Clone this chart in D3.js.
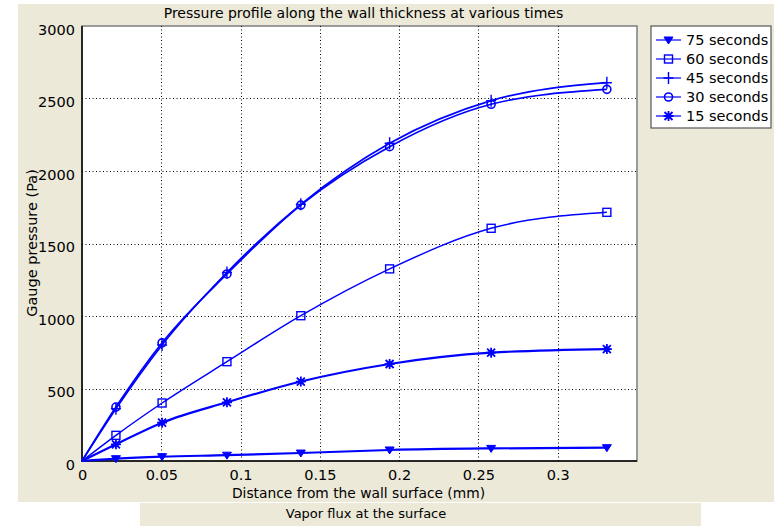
<!DOCTYPE html>
<html lang="en">
<head>
<meta charset="UTF-8">
<title>Pressure profile</title>
<script src="https://d3js.org/d3.v7.min.js"></script>
<style>
    body {margin:0; background:#fff;}
    svg {display:block; font-family:"DejaVu Sans", Verdana, sans-serif;}
</style>
</head>
<body>
<svg id="chart" width="781" height="526"></svg>
<script>
// distance from wall surface (mm)
var distance = [0, 0.0214, 0.0505, 0.0914, 0.138, 0.194, 0.258, 0.331];

// gauge pressure (Pa) per time
var p75 = [0, 16, 30, 40, 55, 76, 87, 92];
var p60 = [0, 177, 400, 685, 1002, 1325, 1605, 1715];
var p45 = [0, 360, 800, 1300, 1770, 2191, 2485, 2609];
var p30 = [0, 372, 815, 1290, 1765, 2168, 2460, 2563];
var p15 = [0, 115, 264, 405, 548, 669, 747, 772];

var seriesNames = ["75 seconds", "60 seconds", "45 seconds", "30 seconds", "15 seconds"];
var seriesValues = [p75, p60, p45, p30, p15];

var xTicks = [0, 0.05, 0.1, 0.15, 0.2, 0.25, 0.3];
var xTickLabels = ["0", "0.05", "0.1", "0.15", "0.2", "0.25", "0.3"];
var yTicks = [0, 500, 1000, 1500, 2000, 2500, 3000];
var yTickLabels = ["0", "500", "1000", "1500", "2000", "2500", "3000"];

// marker type + line width per series (same order as seriesNames)
var markers = ["tri", "square", "plus", "circle", "star"];
var lineWidths = [2.2, 1.5, 1.7, 1.7, 2.2];

var svg = d3.select("#chart");
var blue = "#0000ff";

// beige panels
svg.append("rect").attr("x", 18).attr("y", 4).attr("width", 756).attr("height", 498).attr("fill", "#ece9d8");
svg.append("rect").attr("x", 140).attr("y", 503).attr("width", 561).attr("height", 23).attr("fill", "#ece9d8");

var plotL = 82, plotR = 637, plotT = 26, plotB = 461;
var x = d3.scaleLinear().domain([0, 0.35]).range([plotL, plotR]);
var y = d3.scaleLinear().domain([0, 3000]).range([plotB, plotT]);

svg.append("rect").attr("x", plotL).attr("y", plotT).attr("width", plotR - plotL).attr("height", plotB - plotT)
    .attr("fill", "#fff").attr("stroke", "#7f7f7f").attr("stroke-width", 1.5);

// dotted grid
var grid = svg.append("g").attr("stroke", "#000").attr("stroke-width", 1).attr("stroke-dasharray", "1,2.5");
grid.selectAll(".gx").data(xTicks.slice(1)).enter().append("line")
    .attr("x1", function (d) { return Math.round(x(d)) + 0.5; })
    .attr("x2", function (d) { return Math.round(x(d)) + 0.5; })
    .attr("y1", plotT).attr("y2", plotB);
grid.selectAll(".gy").data(yTicks.slice(1, -1)).enter().append("line")
    .attr("y1", function (d) { return Math.round(y(d)) + 0.5; })
    .attr("y2", function (d) { return Math.round(y(d)) + 0.5; })
    .attr("x1", plotL).attr("x2", plotR);

// axes (labels only, lines drawn below)
var xAxis = svg.append("g").attr("transform", "translate(0," + plotB + ")")
    .call(d3.axisBottom(x).tickValues(xTicks).tickSize(0).tickPadding(9)
        .tickFormat(function (d, i) { return xTickLabels[i]; }));
var yAxis = svg.append("g").attr("transform", "translate(" + plotL + ",0)")
    .call(d3.axisLeft(y).tickValues(yTicks).tickSize(0).tickPadding(7)
        .tickFormat(function (d, i) { return yTickLabels[i]; }));
[xAxis, yAxis].forEach(function (a) {
    a.select(".domain").remove();
    a.selectAll("text").attr("font-family", "DejaVu Sans").attr("font-size", 14.5).attr("fill", "#000");
});
yAxis.selectAll("text").attr("dy", "8px");
xAxis.selectAll("text").attr("dy", "0.71em");

svg.append("line").attr("x1", plotL).attr("x2", plotL).attr("y1", plotT).attr("y2", plotB + 1)
    .attr("stroke", "#000").attr("stroke-width", 1.5);
svg.append("line").attr("x1", plotL).attr("x2", plotR).attr("y1", plotB).attr("y2", plotB)
    .attr("stroke", "#000").attr("stroke-width", 1.5);

function drawMarker(g, type, cx, cy) {
    if (type === "tri") {
        g.append("path").attr("d", "M" + (cx - 4.5) + "," + (cy - 3) + "L" + (cx + 4.5) + "," + (cy - 3) + "L" + cx + "," + (cy + 4) + "Z")
            .attr("fill", blue).attr("stroke", blue).attr("stroke-width", 1);
    } else if (type === "square") {
        g.append("rect").attr("x", cx - 4).attr("y", cy - 4).attr("width", 8).attr("height", 8)
            .attr("fill", "none").attr("stroke", blue).attr("stroke-width", 1.4);
    } else if (type === "plus") {
        g.append("path").attr("d", "M" + (cx - 5) + "," + cy + "H" + (cx + 5) + "M" + cx + "," + (cy - 6) + "V" + (cy + 6))
            .attr("stroke", blue).attr("stroke-width", 1.4);
    } else if (type === "circle") {
        g.append("circle").attr("cx", cx).attr("cy", cy).attr("r", 4)
            .attr("fill", "none").attr("stroke", blue).attr("stroke-width", 1.6);
    } else if (type === "star") {
        g.append("path").attr("d",
            "M" + (cx - 5) + "," + cy + "H" + (cx + 5) +
            "M" + cx + "," + (cy - 5) + "V" + (cy + 5) +
            "M" + (cx - 4) + "," + (cy - 4) + "L" + (cx + 4) + "," + (cy + 4) +
            "M" + (cx - 4) + "," + (cy + 4) + "L" + (cx + 4) + "," + (cy - 4))
            .attr("stroke", blue).attr("stroke-width", 1.8);
        g.append("rect").attr("x", cx - 2.5).attr("y", cy - 2.5).attr("width", 5).attr("height", 5).attr("fill", blue);
    }
}

var line = d3.line()
    .x(function (d) { return x(d[0]); })
    .y(function (d) { return y(d[1]); })
    .curve(d3.curveMonotoneX);

seriesValues.forEach(function (vals, s) {
    var pts = distance.map(function (d, i) { return [d, vals[i]]; });
    var g = svg.append("g");
    g.append("path").datum(pts).attr("d", line)
        .attr("fill", "none").attr("stroke", blue).attr("stroke-width", lineWidths[s]);
    pts.slice(1).forEach(function (p) {
        drawMarker(g, markers[s], x(p[0]), y(p[1]));
    });
});

// legend
var lg = svg.append("g");
lg.append("rect").attr("x", 651).attr("y", 26).attr("width", 120).attr("height", 102)
    .attr("fill", "#fff").attr("stroke", "#555").attr("stroke-width", 1.2);
seriesNames.forEach(function (name, i) {
    var cy = 40 + i * 19;
    lg.append("line").attr("x1", 656).attr("x2", 681).attr("y1", cy).attr("y2", cy)
        .attr("stroke", blue).attr("stroke-width", 1.2);
    drawMarker(lg, markers[i], 668.5, cy);
    lg.append("text").attr("x", 686).attr("y", cy + 5).attr("font-size", 14.5).attr("fill", "#000").text(name);
});

// titles
svg.append("text").attr("x", 363.5).attr("y", 18).attr("text-anchor", "middle").attr("font-size", 14)
    .text("Pressure profile along the wall thickness at various times");
svg.append("text").attr("x", 358.5).attr("y", 498).attr("text-anchor", "middle").attr("font-size", 13.8)
    .text("Distance from the wall surface (mm)");
svg.append("text").attr("transform", "translate(37,243) rotate(-90)").attr("text-anchor", "middle").attr("font-size", 14.5)
    .text("Gauge pressure (Pa)");
svg.append("text").attr("x", 366).attr("y", 518).attr("text-anchor", "middle").attr("font-size", 13)
    .text("Vapor flux at the surface");
</script>
</body>
</html>
